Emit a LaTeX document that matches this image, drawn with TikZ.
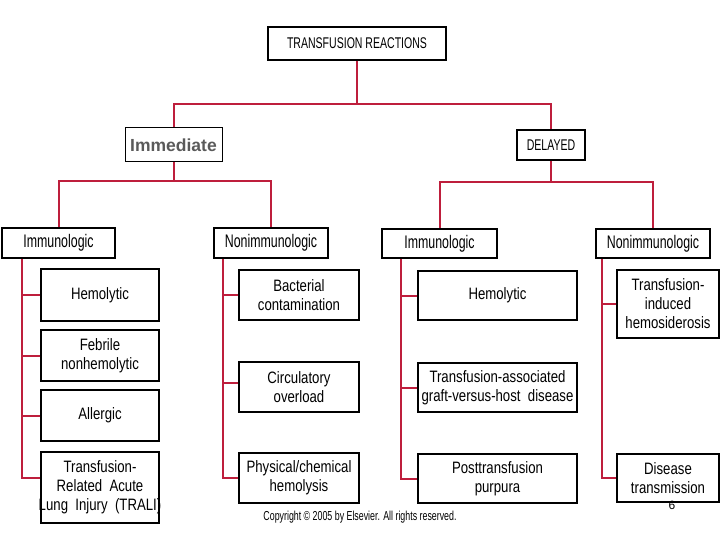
\documentclass[tikz,border=0pt]{standalone}
\usepackage{fontspec}
\setmainfont{Liberation Sans}
\newfontfamily\narrowfont[FakeStretch=0.68]{Liberation Sans}
\newfontfamily\leaffont[FakeStretch=0.8]{Liberation Sans}
\usetikzlibrary{positioning, calc}
\definecolor{linkred}{RGB}{190,30,60}
\definecolor{immgray}{RGB}{90,90,90}
\tikzset{title/.style={rectangle, draw=black, line width=1.5pt, inner sep=0pt, text centered, font=\narrowfont\fontsize{15.5}{18}\selectfont},
         group/.style={rectangle, draw=black, line width=1.5pt, inner sep=0pt, minimum height=30pt, text centered, font=\narrowfont\fontsize{18.2}{20}\selectfont},
         leaf/.style={rectangle, draw=black, line width=1.5pt, inner sep=0pt, align=center, font=\leaffont\fontsize{16.5}{19}\selectfont},
         link/.style={draw=linkred, line width=2pt}}

\begin{document}
\begin{tikzpicture}[x=1pt, y=-1pt]
        \useasboundingbox (0,0) rectangle (720,540);

        \node (root)[title, minimum width=178pt, minimum height=33pt] at (357,43.5) {TRANSFUSION REACTIONS};
        \node (imm)[rectangle, draw=black, line width=1pt, minimum width=97pt, minimum height=34pt, inner sep=0pt, text=immgray, font=\bfseries\fontsize{17.5}{20}\selectfont] at (173.5,145) {Immediate};
        \node (del)[title, minimum width=68pt, minimum height=30pt] at (551,145) {DELAYED};
        \draw [link] (root.south) -- ++(0,43) coordinate (rootjoin) -| (imm.north);
        \draw [link] (rootjoin) -| (del.north);

        \node (immL)[group, minimum width=113pt] at (58.5,243) {Immunologic};
        \node (nonL)[group, minimum width=114pt] at (271,243) {Nonimmunologic};
        \draw [link] (imm.south) -- ++(0,19) coordinate (immjoin) -| (immL.north);
        \draw [link] (immjoin) -| (nonL.north);

        \node (immR)[group, minimum width=115pt, minimum height=29pt] at (439.5,243.5) {Immunologic};
        \node (nonR)[group, minimum width=114pt, minimum height=29pt] at (653,243.5) {Nonimmunologic};
        \draw [link] (del.south) -- ++(0,21) coordinate (deljoin) -| (immR.north);
        \draw [link] (deljoin) -| (nonR.north);

        % immediate, immunologic
        \node (hemL)[leaf, minimum width=118pt, minimum height=52pt] at (100,295) {Hemolytic};
        \node (feb)[leaf, minimum width=118pt, minimum height=51pt] at (100,355.5) {Febrile\\nonhemolytic};
        \node (allerg)[leaf, minimum width=118pt, minimum height=51pt] at (100,415.5) {Allergic};
        \node (trali)[leaf, minimum width=118pt, minimum height=71pt] at (100,487.5) {Transfusion-\\Related~~Acute\\\makebox[100pt]{Lung~~Injury~~(TRALI)}};
        \coordinate (spineA) at ([xshift=21pt]immL.south west);
        \draw [link] (spineA) |- ([yshift=9.5pt]trali.west);
        \draw [link] (hemL.west) -- (hemL.west -| spineA);
        \draw [link] (feb.west) -- (feb.west -| spineA);
        \draw [link] (allerg.west) -- (allerg.west -| spineA);

        % immediate, nonimmunologic
        \node (bact)[leaf, minimum width=120pt, minimum height=50pt] at (299,295) {Bacterial\\contamination};
        \node (circ)[leaf, minimum width=120pt, minimum height=50pt] at (299,387) {Circulatory\\overload};
        \node (phys)[leaf, minimum width=120pt, minimum height=50pt] at (299,478) {Physical/chemical\\hemolysis};
        \coordinate (spineB) at ([xshift=10pt]nonL.south west);
        \draw [link] (spineB) |- (phys.west);
        \draw [link] (bact.west) -- (bact.west -| spineB);
        \draw [link] ([yshift=4pt]circ.west) -- ([yshift=4pt]circ.west -| spineB);

        % delayed, immunologic
        \node (hemR)[leaf, minimum width=159pt, minimum height=49pt] at (497.5,295.5) {Hemolytic};
        \node (gvhd)[leaf, minimum width=159pt, minimum height=49pt] at (497.5,387.5) {Transfusion-associated\\graft-versus-host~~disease};
        \node (ptp)[leaf, minimum width=159pt, minimum height=49pt] at (497.5,478.5) {Posttransfusion\\purpura};
        \coordinate (spineC) at ([xshift=20pt]immR.south west);
        \draw [link] (spineC) |- (ptp.west);
        \draw [link] (hemR.west) -- (hemR.west -| spineC);
        \draw [link] (gvhd.west) -- (gvhd.west -| spineC);

        % delayed, nonimmunologic
        \node (hemosid)[leaf, minimum width=102pt, minimum height=68pt] at (668,304) {Transfusion-\\induced\\hemosiderosis};
        \node (disease)[leaf, minimum width=102pt, minimum height=48pt] at (668,478) {Disease\\transmission};
        \coordinate (spineD) at ([xshift=7pt]nonR.south west);
        \draw [link] (spineD) |- (disease.west);
        \draw [link] (hemosid.west) -- (hemosid.west -| spineD);

        \node (copyright)[font=\narrowfont\fontsize{13}{15}\selectfont] at (360,517) {Copyright \textcopyright\ 2005 by Elsevier. All rights reserved.};
        \node (pagenum)[font=\fontsize{12}{14}\selectfont] at (672,505) {6};
\end{tikzpicture}
\end{document}
